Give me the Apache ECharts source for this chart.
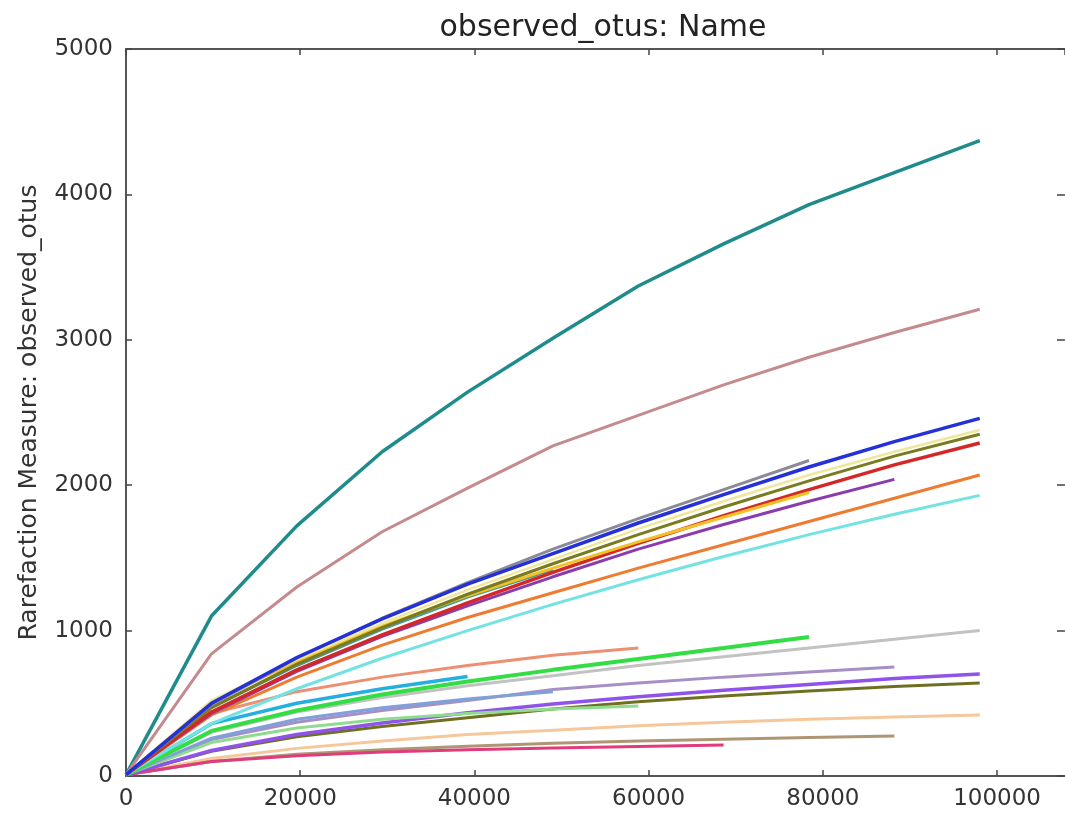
<!DOCTYPE html>
<html>
<head>
<meta charset="utf-8">
<script src="https://cdn.jsdelivr.net/npm/echarts@6/dist/echarts.min.js"></script>
<style>
  html, body { margin: 0; padding: 0; background: #fff; }
  #chart { width: 1065px; height: 818px; }
</style>
</head>
<body>
<div id="chart"></div>
<script>
// rarefaction depths (sequences per sample)
const depths = [10, 9810, 19610, 29410, 39210, 49010, 58810, 68610, 78410, 88210, 98010];
const xTicks = [0, 20000, 40000, 60000, 80000, 100000];
const yTicks = [0, 1000, 2000, 3000, 4000, 5000];

// observed otus per sample (shorter arrays = sample ran out of depth)
const tealSample = [10, 1100, 1720, 2230, 2640, 3010, 3370, 3660, 3930, 4150, 4370];
const roseSample = [10, 840, 1300, 1680, 1980, 2270, 2480, 2690, 2880, 3050, 3210];
const peachSample = [8, 120, 190, 240, 285, 315, 345, 370, 390, 405, 420];
const tanSample = [8, 100, 150, 180, 205, 225, 240, 252, 264, 275];
const pinkSample = [8, 100, 140, 165, 180, 193, 203, 213];
const oliveDarkSample = [9, 170, 270, 340, 400, 460, 510, 550, 585, 615, 640];
const purpleMidSample = [9, 175, 285, 365, 435, 495, 545, 590, 630, 670, 702];
const lavenderSample = [9, 250, 370, 450, 520, 595, 640, 680, 715, 750];
const lightGreenSample = [9, 230, 330, 390, 430, 460, 481];
const steelSample = [9, 260, 390, 470, 530, 580];
const lightGraySample = [9, 300, 440, 540, 620, 690, 760, 820, 880, 940, 1000];
const greenSample = [9, 310, 450, 560, 650, 730, 805, 880, 956];
const skySample = [9, 360, 500, 600, 685];
const salmonSample = [10, 430, 580, 680, 760, 830, 880];
const cyanSample = [10, 360, 600, 810, 1000, 1180, 1350, 1510, 1660, 1800, 1930];
const orangeSample = [10, 420, 680, 900, 1090, 1260, 1430, 1590, 1750, 1910, 2070];
const cadetSample = [10, 470, 760, 1010, 1230, 1420];
const purpleSample = [10, 430, 720, 960, 1170, 1370, 1560, 1730, 1890, 2040];
const redSample = [10, 440, 730, 970, 1190, 1400, 1600, 1790, 1970, 2140, 2290];
const goldSample = [10, 510, 790, 1030, 1240, 1430, 1610, 1780, 1950];
const oliveSample = [10, 470, 770, 1020, 1250, 1460, 1660, 1850, 2030, 2200, 2350];
const khakiSample = [10, 520, 800, 1050, 1280, 1490, 1700, 1890, 2070, 2230, 2380];
const graySample = [10, 490, 810, 1085, 1330, 1560, 1770, 1970, 2170];
const blueSample = [10, 500, 815, 1080, 1320, 1530, 1740, 1935, 2125, 2300, 2460];

const FONT = 'DejaVu Sans';

function mkLine(name, values, color, width) {
  return {
    name: name,
    type: 'line',
    showSymbol: false,
    silent: true,
    data: values.map((v, i) => [depths[i], v]),
    lineStyle: { color: color, width: width || 3 },
    itemStyle: { color: color }
  };
}

let chart = echarts.init(document.getElementById('chart'));

let axisLineStyle = { color: '#555', width: 2 };
let tickStyle = { color: '#444', width: 1.5 };

let option = {
  animation: false,
  backgroundColor: '#fff',
  title: {
    text: 'observed_otus: Name',
    left: 598,
    top: 8,
    textAlign: 'center',
    textStyle: { fontFamily: FONT, fontSize: 30, fontWeight: 'normal', color: '#222' }
  },
  grid: { left: 126, top: 49, width: 943, height: 727 },
  xAxis: [
    {
      type: 'value',
      min: 0,
      max: 107800,
      interval: 20000,
      position: 'bottom',
      axisLine: { onZero: false, lineStyle: axisLineStyle },
      axisTick: { inside: true, length: 6, lineStyle: tickStyle },
      axisLabel: {
        showMaxLabel: false,
        margin: 12,
        fontFamily: FONT,
        fontSize: 23,
        color: '#333',
        formatter: v => xTicks.indexOf(v) >= 0 ? String(v) : ''
      },
      splitLine: { show: false }
    },
    {
      type: 'value',
      min: 0,
      max: 107800,
      interval: 20000,
      position: 'top',
      axisLine: { onZero: false, lineStyle: axisLineStyle },
      axisTick: { inside: true, length: 6, lineStyle: tickStyle },
      axisLabel: { show: false },
      splitLine: { show: false }
    }
  ],
  yAxis: [
    {
      type: 'value',
      min: 0,
      max: 5000,
      interval: 1000,
      position: 'left',
      name: 'Rarefaction Measure: observed_otus',
      nameLocation: 'middle',
      nameGap: 84,
      nameTextStyle: { fontFamily: FONT, fontSize: 25, color: '#333' },
      axisLine: { show: true, onZero: false, lineStyle: axisLineStyle },
      axisTick: { show: true, inside: true, length: 6, lineStyle: tickStyle },
      axisLabel: {
        margin: 13,
        fontFamily: FONT,
        fontSize: 23,
        color: '#333',
        formatter: v => yTicks.indexOf(v) >= 0 ? String(v) : ''
      },
      splitLine: { show: false }
    },
    {
      type: 'value',
      min: 0,
      max: 5000,
      interval: 1000,
      position: 'right',
      axisLine: { show: false, onZero: false },
      axisTick: { show: true, inside: true, length: 8, lineStyle: tickStyle },
      axisLabel: { show: false },
      splitLine: { show: false }
    }
  ],
  series: [
    mkLine('teal', tealSample, '#1f8b8b', 3.5),
    mkLine('rose', roseSample, '#c48a8e', 3),
    mkLine('peach', peachSample, '#f6c79a', 3),
    mkLine('tan', tanSample, '#ae9674', 3),
    mkLine('pink', pinkSample, '#e03c7c', 3),
    mkLine('oliveDark', oliveDarkSample, '#6f6f22', 3),
    mkLine('lavender', lavenderSample, '#a68fc6', 3),
    mkLine('purpleMid', purpleMidSample, '#8f52ea', 3.5),
    mkLine('lightGreen', lightGreenSample, '#8fdc8f', 3),
    mkLine('steel', steelSample, '#7fa0d8', 3),
    mkLine('lightGray', lightGraySample, '#c2c2c2', 3),
    mkLine('sky', skySample, '#25aee0', 3.5),
    mkLine('green', greenSample, '#33dd44', 4),
    mkLine('salmon', salmonSample, '#ec8f72', 3),
    mkLine('cyan', cyanSample, '#72e2e2', 3),
    mkLine('orange', orangeSample, '#ef7b30', 3),
    mkLine('cadet', cadetSample, '#4b9a9a', 3),
    mkLine('purple', purpleSample, '#8a3cae', 3),
    mkLine('red', redSample, '#d42828', 3.5),
    mkLine('gold', goldSample, '#f2c224', 3),
    mkLine('olive', oliveSample, '#7a7a1e', 3),
    mkLine('khaki', khakiSample, '#efe79c', 2.5),
    mkLine('gray', graySample, '#8a8a98', 3),
    mkLine('blue', blueSample, '#2430d8', 3.5)
  ]
};

chart.setOption(option);
</script>
</body>
</html>
